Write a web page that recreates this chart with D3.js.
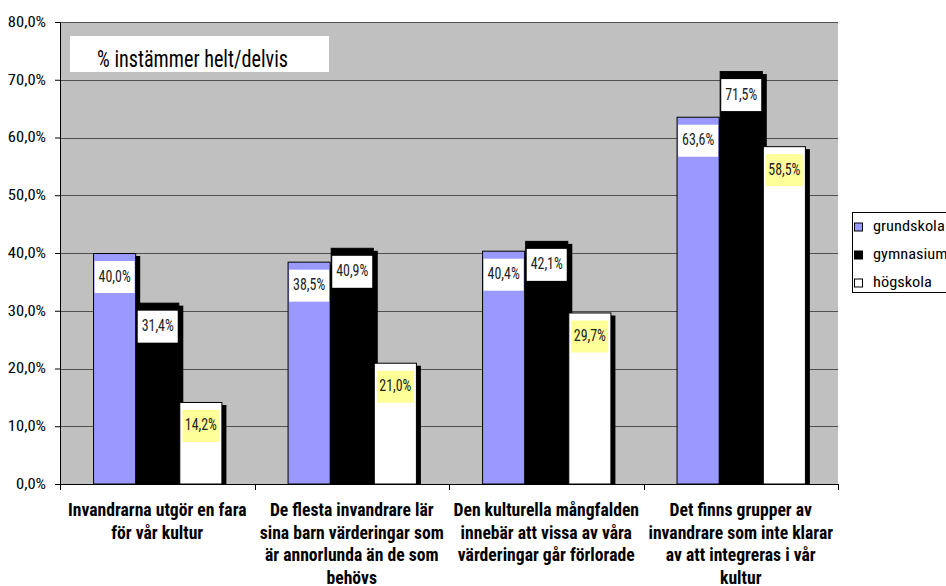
<!DOCTYPE html>
<html><head><meta charset="utf-8">
<script src="https://cdn.jsdelivr.net/npm/d3@7"></script>
<style>
html,body{margin:0;padding:0;background:#fff;overflow:hidden;}
svg{display:block;}
</style></head>
<body><svg id="chart" width="946" height="586"></svg>
<script>
const categories = [
  ["Invandrarna utgör en fara", "för vår kultur"],
  ["De flesta invandrare lär", "sina barn värderingar som", "är annorlunda än de som", "behövs"],
  ["Den kulturella mångfalden", "innebär att vissa av våra", "värderingar går förlorade"],
  ["Det finns grupper av", "invandrare som inte klarar", "av att integreras i vår", "kultur"]
];
const seriesNames = ["grundskola", "gymnasium", "högskola"];
const grundskola = [40.0, 38.5, 40.4, 63.6];
const gymnasium = [31.4, 40.9, 42.1, 71.5];
const hogskola = [14.2, 21.0, 29.7, 58.5];
const yTicks = [0, 10, 20, 30, 40, 50, 60, 70, 80];
const titleText = "% instämmer helt/delvis";

const seriesValues = [grundskola, gymnasium, hogskola];
const colors = ["#9999FF", "#000000", "#FFFFFF"];
const labelBg = ["#FFFFFF", "#FFFFFF", "#FFFF99"];

const FONT = "'Liberation Sans Narrow','Arial Narrow','Roboto Condensed','DejaVu Sans Condensed',sans-serif";
const svg = d3.select("#chart");
const pL = 60, pR = 838, pT = 22, pB = 484;

// horizontally condense/stretch text glyphs by a factor
function condense(sel, factor) {
  sel.each(function () {
    const len = this.getComputedTextLength();
    d3.select(this).attr("textLength", len * factor).attr("lengthAdjust", "spacingAndGlyphs");
  });
}

const y = d3.scaleLinear().domain([0, 80]).range([pB, pT]);
const x0 = d3.scaleBand().domain(d3.range(categories.length)).range([pL, pR]).padding(0);
const bw = x0.bandwidth();
const x1 = d3.scaleBand().domain(d3.range(seriesNames.length)).range([bw * 0.17, bw * 0.835]).padding(0);

// plot background
svg.append("rect").attr("x", pL).attr("y", pT).attr("width", pR - pL).attr("height", pB - pT).attr("fill", "#C0C0C0");

// gridlines
svg.append("g").selectAll("line").data(yTicks.filter(d => d > 0)).join("line")
  .attr("x1", pL).attr("x2", pR)
  .attr("y1", d => Math.round(y(d)) + 0.5).attr("y2", d => Math.round(y(d)) + 0.5)
  .attr("stroke", "#505050").attr("stroke-width", 1.2);

// title box
svg.append("rect").attr("x", 70).attr("y", 36).attr("width", 259).attr("height", 36).attr("fill", "#fff");
svg.append("text").attr("x", 97).attr("y", 66.5).attr("font-family", FONT).attr("font-size", 24).attr("fill", "#000")
  .text(titleText).call(condense, 0.84);

// bars
const groups = svg.append("g").selectAll("g").data(categories).join("g")
  .attr("transform", (d, i) => `translate(${x0(i)},0)`);

const barData = (ci) => seriesValues.map((vals, si) => ({ si, v: vals[ci] }));

// shadows
groups.selectAll("rect.shadow").data((d, ci) => barData(ci)).join("rect").attr("class", "shadow")
  .attr("x", d => x1(d.si) + 4)
  .attr("y", d => y(d.v) + 3)
  .attr("width", x1.bandwidth())
  .attr("height", d => pB - y(d.v) - 3)
  .attr("fill", "#000");

groups.selectAll("rect.bar").data((d, ci) => barData(ci)).join("rect").attr("class", "bar")
  .attr("x", d => x1(d.si) + 0.5)
  .attr("y", d => y(d.v) + 0.5)
  .attr("width", x1.bandwidth() - 1)
  .attr("height", d => pB - y(d.v) - 0.5)
  .attr("fill", d => colors[d.si])
  .attr("stroke", "#000").attr("stroke-width", 1);

// labels
const fmt = v => v.toFixed(1).replace(".", ",") + "%";
groups.selectAll("rect.lbl").data((d, ci) => barData(ci)).join("rect").attr("class", "lbl")
  .attr("x", d => x1(d.si) + x1.bandwidth() / 2 - (d.si === 2 ? 18.5 : 20))
  .attr("y", d => y(d.v) + 8)
  .attr("width", d => d.si === 2 ? 37 : 40)
  .attr("height", 32)
  .attr("fill", d => labelBg[d.si]);
groups.selectAll("text.lbl").data((d, ci) => barData(ci)).join("text").attr("class", "lbl")
  .attr("x", d => x1(d.si) + x1.bandwidth() / 2)
  .attr("y", d => y(d.v) + 28.5)
  .attr("text-anchor", "middle")
  .attr("font-family", FONT).attr("font-size", 16).attr("fill", "#222")
  .text(d => fmt(d.v)).call(condense, 0.87);

// y axis
const yAxis = svg.append("g").attr("transform", `translate(${pL},0)`)
  .call(d3.axisLeft(y).tickValues(yTicks).tickSize(5).tickFormat(d => d.toFixed(1).replace(".", ",") + "%"));
yAxis.select(".domain").attr("stroke", "#000");
yAxis.selectAll(".tick line").attr("stroke", "#000");
yAxis.selectAll(".tick text").attr("font-family", FONT).attr("font-size", 14).attr("fill", "#000")
  .attr("x", -14).call(condense, 1.18);

// x axis
const xAxis = svg.append("g").attr("transform", `translate(0,${pB})`);
xAxis.append("line").attr("x1", pL).attr("x2", pR).attr("y1", 0.5).attr("y2", 0.5).attr("stroke", "#000");
xAxis.selectAll("line.tk").data(d3.range(categories.length + 1)).join("line").attr("class", "tk")
  .attr("x1", i => Math.round(pL + i * bw) + 0.5).attr("x2", i => Math.round(pL + i * bw) + 0.5)
  .attr("y1", 0).attr("y2", 6).attr("stroke", "#000");

const catG = svg.append("g").selectAll("g").data(categories).join("g");
catG.selectAll("text").data((d, ci) => d.map(line => ({ line, ci }))).join("text")
  .attr("x", d => x0(d.ci) + bw / 2)
  .attr("y", (d, i) => 516 + i * 22.5)
  .attr("text-anchor", "middle")
  .attr("font-family", FONT).attr("font-size", 18).attr("font-weight", "bold").attr("fill", "#000")
  .text(d => d.line).call(condense, 0.98);

// legend
const lg = svg.append("g");
lg.append("rect").attr("x", 852.5).attr("y", 212.5).attr("width", 100).attr("height", 80).attr("fill", "#fff").attr("stroke", "#000");
const items = lg.selectAll("g").data(seriesNames).join("g")
  .attr("transform", (d, i) => `translate(854,${226.5 + i * 28})`);
items.append("rect").attr("x", 0.5).attr("y", -3.5).attr("width", 8).attr("height", 8)
  .attr("fill", (d, i) => colors[i]).attr("stroke", "#000");
items.append("text").attr("x", 19).attr("y", 4.5)
  .attr("font-family", FONT).attr("font-size", 14).attr("fill", "#000").text(d => d).call(condense, 1.17);
</script></body></html>
